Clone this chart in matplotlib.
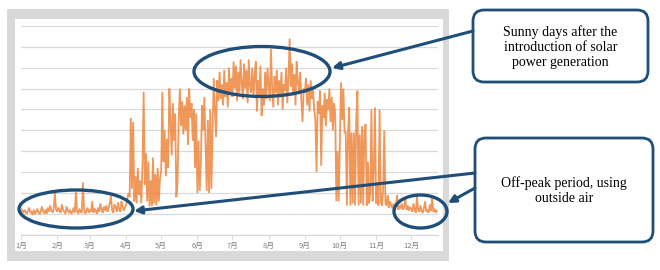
import matplotlib
matplotlib.use('Agg')
import matplotlib.pyplot as plt
from matplotlib.patches import Rectangle, Ellipse, FancyBboxPatch
import numpy as np

# daily values (grid units), one list per month
jan = [1.25, 1.15, 1.05, 1.2, 1.1, 1.0, 1.15, 1.3, 1.05, 1.1, 0.95, 1.2, 1.0, 1.1, 1.25, 1.05,
       1.0, 1.15, 1.35, 1.1, 1.05, 1.2, 1.0, 1.3, 1.1, 1.4, 1.15, 1.05, 1.25, 2.0, 1.2]
feb = [1.1, 1.3, 1.15, 1.05, 1.45, 1.2, 1.1, 1.0, 1.35, 1.15, 1.05, 1.2, 1.0, 1.1, 1.3, 1.05,
       2.05, 1.15, 1.0, 1.25, 1.1, 1.05, 2.5, 1.2, 1.0, 1.15, 1.3, 1.05]
mar = [1.2, 1.1, 1.6, 1.05, 1.25, 1.15, 1.0, 1.3, 1.1, 1.5, 1.2, 1.05, 1.35, 1.15, 1.4, 1.1,
       1.25, 1.5, 1.85, 1.2, 1.05, 1.45, 1.3, 1.1, 1.55, 1.2, 1.1, 1.6, 1.35, 1.15, 1.3]
apr = [1.4, 1.7, 2.0, 1.8, 5.6, 2.2, 5.4, 1.6, 2.8, 1.5, 3.2, 1.9, 2.6, 1.5, 3.3, 6.85,
       2.4, 3.9, 1.6, 3.5, 1.35, 2.6, 1.4, 3.7, 1.5, 2.9, 1.4, 3.2, 1.6, 2.7]
may = [3.0, 6.85, 3.5, 5.0, 2.8, 4.6, 3.2, 7.0, 5.5, 3.8, 6.3, 4.5, 5.8, 1.8, 2.5, 5.5,
       7.0, 5.2, 6.4, 4.8, 6.2, 5.0, 6.6, 4.3, 7.0, 5.6, 6.3, 4.5, 6.0, 3.2, 5.8]
jun = [2.0, 4.5, 2.1, 3.5, 6.2, 5.0, 6.6, 4.2, 2.1, 5.5, 2.0, 6.0, 2.2, 5.0, 7.5, 6.0,
       4.7, 7.4, 6.4, 7.8, 6.5, 7.2, 6.2, 7.9, 6.6, 7.3, 6.1, 8.0, 6.8, 7.5]
jul = [6.6, 8.3, 7.0, 8.1, 6.4, 7.8, 6.8, 8.4, 7.2, 6.5, 8.2, 7.0, 7.9, 6.3, 8.4, 7.1,
       6.8, 8.0, 6.6, 7.6, 8.3, 5.9, 7.4, 6.7, 8.1, 5.7, 7.0, 6.2, 7.8, 6.5, 8.0]
aug = [7.2, 6.4, 8.9, 7.0, 6.1, 7.6, 6.8, 7.9, 6.2, 7.4, 6.6, 7.8, 6.0, 7.2, 6.9, 8.0,
       6.3, 7.5, 9.4, 7.1, 8.2, 6.7, 7.7, 6.2, 8.3, 7.3, 6.9, 7.8, 6.4, 5.4, 7.0]
sep = [6.8, 7.5, 6.2, 7.2, 5.9, 7.4, 6.5, 7.0, 6.0, 5.5, 3.0, 6.4, 5.8, 6.9, 3.3, 6.2,
       5.6, 6.8, 5.2, 6.5, 6.0, 7.0, 5.4, 6.6, 5.0, 6.3, 5.8, 1.6, 4.0, 1.6]
oct_ = [4.5, 7.3, 5.5, 7.0, 4.9, 4.9, 1.4, 4.9, 6.1, 1.4, 4.9, 1.5, 4.9, 1.4, 5.5, 6.9,
        1.4, 4.8, 1.5, 5.2, 1.4, 5.0, 5.3, 1.4, 3.5, 1.5, 2.0, 6.0, 1.6, 3.0, 6.1]
nov = [1.5, 2.5, 1.4, 6.0, 1.6, 1.4, 2.2, 5.0, 1.5, 1.4, 1.9, 1.3, 1.6, 1.4, 1.25, 1.5,
       1.3, 1.35, 1.9, 1.2, 1.4, 1.25, 1.5, 1.2, 1.35, 1.75, 1.2, 1.4, 1.15, 1.3]
dec = [1.25, 1.1, 1.5, 1.2, 1.05, 1.85, 1.2, 1.1, 1.4, 1.15, 1.05, 1.3, 1.6, 1.1, 1.2,
       1.05, 1.45, 1.15, 1.8, 1.1, 1.25, 1.05, 1.15]

month_labels = ['1月', '2月', '3月', '4月', '5月', '6月', '7月', '8月', '9月', '10月', '11月', '12月']
month_days = [31, 28, 31, 30, 31, 30, 31, 31, 30, 31, 30, 31]

callout_top = 'Sunny days after the\nintroduction of solar\npower generation'
callout_bottom = 'Off-peak period, using\noutside air'

values = jan + feb + mar + apr + may + jun + jul + aug + sep + oct_ + nov + dec
days = np.arange(len(values))
month_starts = np.concatenate([[0], np.cumsum(month_days)[:-1]])

W, H = 660, 270
NAVY = '#1F4E79'
ORANGE = '#ED7D31'
GRID = '#D9D9D9'

fig = plt.figure(figsize=(W / 100, H / 100), dpi=100)
fig.patch.set_facecolor('white')


def fx(px):
    return px / W


def fy(py):
    return 1 - py / H


# grey frame around the chart, kept behind the axes
fig.patches.append(Rectangle((fx(7), fy(261)), fx(449) - fx(7), fy(9) - fy(261),
                             transform=fig.transFigure, fc='#D9D9D9', ec='none', zorder=-2))
fig.patches.append(Rectangle((fx(15), fy(251)), fx(443) - fx(15), fy(19) - fy(251),
                             transform=fig.transFigure, fc='white', ec='none', zorder=-1))

# chart
ax = fig.add_axes([fx(21), fy(234.7), fx(438) - fx(21), fy(26) - fy(234.7)], zorder=1)
ax.set_facecolor('none')
ax.plot(days, values, color=ORANGE, lw=1.3, alpha=0.8, solid_joinstyle='miter')
ax.set_xlim(0, 357)
ax.set_ylim(0, 10)
ax.set_yticks(np.arange(0, 11, 1))
ax.yaxis.grid(True, color=GRID, lw=0.9)
ax.set_axisbelow(True)
ax.tick_params(axis='y', length=0, labelleft=False)
ax.set_xticks(month_starts)
ax.set_xticklabels(month_labels, family=['Noto Sans CJK JP', 'DejaVu Sans'],
                   fontsize=5.5, color='#808080')
ax.tick_params(axis='x', length=3, color=GRID, pad=2)
for side in ['top', 'right', 'left']:
    ax.spines[side].set_visible(False)
ax.spines['bottom'].set_color(GRID)
ax.spines['bottom'].set_linewidth(0.9)

# annotation overlay in pixel coordinates
ov = fig.add_axes([0, 0, 1, 1], zorder=5)
ov.set_xlim(0, W)
ov.set_ylim(H, 0)
ov.axis('off')
ov.patch.set_visible(False)

for cx, cy, w, h in [(76, 209, 114, 38), (262, 71.5, 136, 50), (420.5, 211.5, 53, 33)]:
    ov.add_patch(Ellipse((cx, cy), w, h, fill=False, ec=NAVY, lw=2.4))

for x0, y0, x1, y1 in [(473, 10, 648, 82), (475, 138, 653, 242)]:
    ov.add_patch(FancyBboxPatch((x0, y0), x1 - x0, y1 - y0,
                                boxstyle='round,pad=0,rounding_size=11',
                                fc='white', ec=NAVY, lw=2.0))

ov.text(560.5, 47, callout_top, ha='center', va='center', fontsize=10,
        family='Liberation Serif', linespacing=1.2)
ov.text(564, 191, callout_bottom, ha='center', va='center', fontsize=10,
        family='Liberation Serif', linespacing=1.2)

arrow = dict(arrowstyle='-|>', color=NAVY, lw=2.2, mutation_scale=11, shrinkA=0, shrinkB=0)
ov.annotate('', xy=(332, 68), xytext=(473, 31), arrowprops=arrow)
ov.annotate('', xy=(134, 211), xytext=(475, 173), arrowprops=arrow)
ov.annotate('', xy=(448, 203), xytext=(475, 188), arrowprops=arrow)

fig.savefig('out.png', dpi=100)
